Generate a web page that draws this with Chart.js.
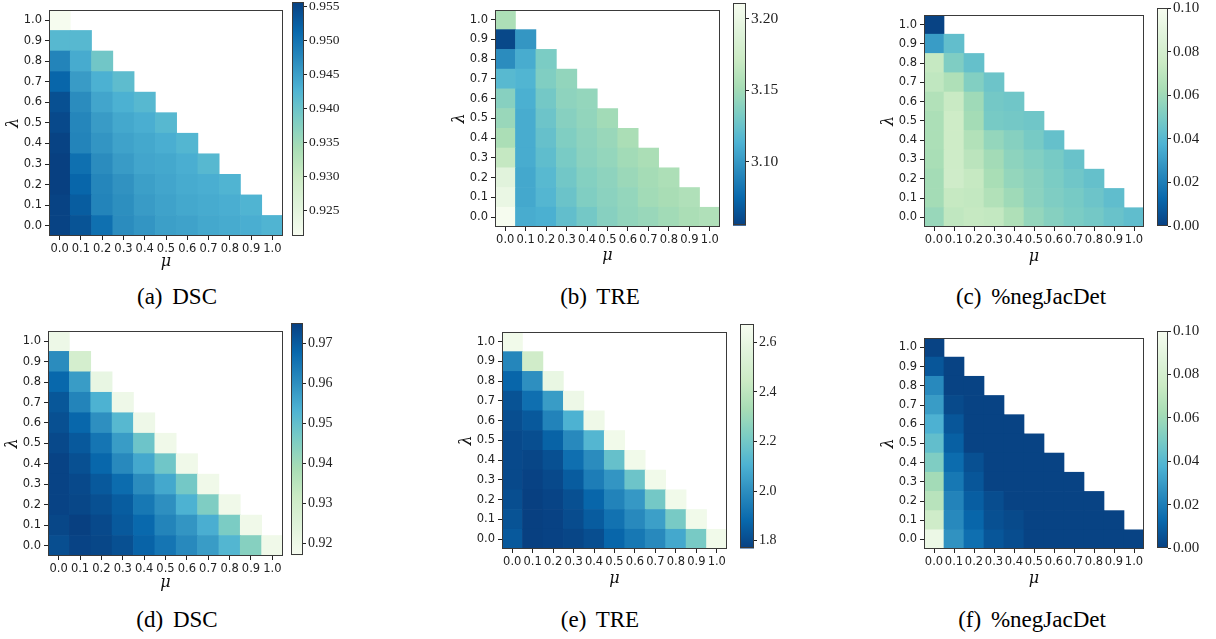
<!DOCTYPE html>
<html><head><meta charset="utf-8">
<script src="https://cdn.jsdelivr.net/npm/chart.js@4.4.1/dist/chart.umd.min.js"></script>
<style>
html,body{margin:0;padding:0;background:#fff;}
body{width:1216px;height:639px;position:relative;overflow:hidden;}
canvas{position:absolute;}
.cap{position:absolute;font-family:'Liberation Serif',serif;font-size:23px;word-spacing:4px;color:#000;white-space:nowrap;transform:translate(-50%,-50%);}
</style></head><body>
<script>
// ---------- data ----------
const muLabels = ['0.0','0.1','0.2','0.3','0.4','0.5','0.6','0.7','0.8','0.9','1.0'];
const lambdaValues = [0.0,0.1,0.2,0.3,0.4,0.5,0.6,0.7,0.8,0.9,1.0];

// rows: lambda = 0.0 (first) ... 1.0 (last); entries: mu = 0.0, 0.1, ...
const dscA = [
 [0.9554,0.9536,0.9505,0.9471,0.9461,0.9450,0.9447,0.9440,0.9437,0.9433,0.9426],
 [0.9554,0.9526,0.9481,0.9468,0.9454,0.9447,0.9440,0.9437,0.9433,0.9426],
 [0.9557,0.9516,0.9478,0.9464,0.9450,0.9443,0.9437,0.9433,0.9426],
 [0.9557,0.9505,0.9471,0.9454,0.9443,0.9440,0.9433,0.9419],
 [0.9554,0.9481,0.9461,0.9447,0.9440,0.9433,0.9423],
 [0.9547,0.9478,0.9454,0.9440,0.9433,0.9419],
 [0.9540,0.9471,0.9443,0.9430,0.9419],
 [0.9516,0.9454,0.9430,0.9413],
 [0.9481,0.9437,0.9395],
 [0.9419,0.9419],
 [0.9215]
];
const treB = [
 [3.210,3.110,3.112,3.122,3.130,3.138,3.143,3.146,3.150,3.154,3.157],
 [3.200,3.108,3.116,3.126,3.135,3.140,3.144,3.150,3.153,3.157],
 [3.192,3.108,3.118,3.129,3.137,3.141,3.147,3.151,3.155],
 [3.168,3.110,3.121,3.132,3.140,3.144,3.150,3.154],
 [3.154,3.110,3.124,3.135,3.141,3.146,3.154],
 [3.146,3.110,3.127,3.138,3.143,3.150],
 [3.138,3.112,3.130,3.141,3.144],
 [3.118,3.115,3.135,3.143],
 [3.094,3.110,3.133],
 [3.059,3.099],
 [3.155]
];
const negJacC = [
 [0.058,0.071,0.073,0.072,0.065,0.057,0.053,0.050,0.048,0.045,0.0425],
 [0.0615,0.073,0.072,0.066,0.060,0.0545,0.051,0.049,0.046,0.0425],
 [0.0615,0.077,0.073,0.063,0.057,0.054,0.050,0.047,0.044],
 [0.063,0.0765,0.069,0.061,0.055,0.052,0.049,0.045],
 [0.064,0.076,0.066,0.057,0.053,0.049,0.044],
 [0.064,0.076,0.0615,0.049,0.048,0.047],
 [0.066,0.074,0.060,0.048,0.047],
 [0.071,0.065,0.052,0.046],
 [0.073,0.051,0.044],
 [0.030,0.043],
 [0.001]
];
const dscD = [
 [0.9724,0.9744,0.9738,0.9721,0.9686,0.9651,0.9611,0.9576,0.9524,0.9443,0.9193],
 [0.9738,0.9750,0.9733,0.9704,0.9675,0.9622,0.9588,0.9541,0.9460,0.9193],
 [0.9744,0.9738,0.9721,0.9698,0.9646,0.9599,0.9535,0.9454,0.9193],
 [0.9744,0.9733,0.9704,0.9669,0.9605,0.9553,0.9472,0.9193],
 [0.9744,0.9721,0.9680,0.9611,0.9553,0.9477,0.9193],
 [0.9733,0.9704,0.9651,0.9576,0.9483,0.9193],
 [0.9721,0.9680,0.9599,0.9518,0.9199],
 [0.9709,0.9622,0.9535,0.9199],
 [0.9678,0.9576,0.9216],
 [0.9605,0.9286],
 [0.9200]
];
const treE = [
 [1.839,1.768,1.775,1.784,1.807,1.875,1.930,1.985,2.076,2.212,2.641],
 [1.821,1.768,1.775,1.802,1.848,1.912,1.985,2.048,2.212,2.641],
 [1.807,1.768,1.780,1.812,1.875,1.966,2.030,2.203,2.641],
 [1.793,1.775,1.793,1.848,1.948,2.021,2.185,2.641],
 [1.793,1.784,1.812,1.903,1.994,2.167,2.641],
 [1.793,1.807,1.866,1.985,2.121,2.641],
 [1.807,1.839,1.966,2.103,2.631],
 [1.821,1.903,2.039,2.622],
 [1.875,2.003,2.604],
 [1.976,2.467],
 [2.641]
];
const negJacF = [
 [0.094,0.027,0.015,0.007,0.004,0.001,0.001,0.001,0.001,0.001,0.001],
 [0.077,0.024,0.012,0.005,0.003,0.001,0.001,0.001,0.001,0.001],
 [0.068,0.022,0.0095,0.004,0.001,0.001,0.001,0.001,0.001],
 [0.061,0.018,0.007,0.001,0.001,0.001,0.001,0.001],
 [0.051,0.014,0.005,0.001,0.001,0.001,0.001],
 [0.043,0.010,0.001,0.001,0.001,0.001],
 [0.037,0.007,0.001,0.001,0.001],
 [0.030,0.003,0.001,0.001],
 [0.024,0.001,0.001],
 [0.007,0.001],
 [0.001]
];

// colour-bar ranges and tick labels
const rangeA = [0.9213, 0.9557];
const rangeB = [3.0553, 3.2107];
const rangeC = [0.0, 0.1];
const rangeD = [0.917, 0.975];
const rangeE = [1.768, 2.672];
const rangeF = [0.0, 0.1];
const cbTicksA = [0.925,0.930,0.935,0.940,0.945,0.950,0.955];
const cbTicksB = [3.10,3.15,3.20];
const cbTicksC = [0.00,0.02,0.04,0.06,0.08,0.10];
const cbTicksD = [0.92,0.93,0.94,0.95,0.96,0.97];
const cbTicksE = [1.8,2.0,2.2,2.4,2.6];
const cbTicksF = [0.00,0.02,0.04,0.06,0.08,0.10];

// ---------- colormap (GnBu) ----------
const GNBU = ['#f7fcf0','#e0f3db','#ccebc5','#a8ddb5','#7bccc4','#4eb3d3','#2b8cbe','#0868ac','#084081'];
const GN = GNBU.map(h => [1,3,5].map(i => parseInt(h.substr(i,2),16)));
function cmapT(t){
  t = Math.max(0, Math.min(1, t));
  const s = t*8, i = Math.min(7, Math.floor(s)), f = s - i;
  const a = GN[i], b = GN[i+1];
  return 'rgb(' + a.map((c,k) => Math.round(c + (b[k]-c)*f)).join(',') + ')';
}
function cmap(v, range, rev){
  let t = (v - range[0]) / (range[1] - range[0]);
  if (rev) t = 1 - t;
  return cmapT(t);
}

const framePlugin = {
  id: 'frame',
  afterDraw(chart){
    const {ctx, chartArea: a} = chart;
    ctx.save();
    ctx.strokeStyle = '#3a3a3a';
    ctx.lineWidth = 1;
    ctx.strokeRect(Math.round(a.left) + 0.5, Math.round(a.top) + 0.5,
                   Math.round(a.right - a.left) - 1, Math.round(a.bottom - a.top) - 1);
    ctx.restore();
  }
};

const panels = [
  {data: dscA, range: rangeA, rev: false, ticks: cbTicksA, dec: 3, box: [49,2,283,236], cb: [292,2,304,236], muGap: 28, cbFont: 13.5, caption: '(a) DSC', cap: [177,297]},
  {data: treB, range: rangeB, rev: true,  ticks: cbTicksB, dec: 2, box: [495,2,720,227], cb: [733,2,746,227], muGap: 31.5, cbFont: 15.5, caption: '(b) TRE', cap: [600,297]},
  {data: negJacC, range: rangeC, rev: true, ticks: cbTicksC, dec: 2, box: [924,7,1144,227], cb: [1157,7,1168,227], muGap: 32, cbFont: 15, caption: '(c) %negJacDet', cap: [1031,297]},
  {data: dscD, range: rangeD, rev: false, ticks: cbTicksD, dec: 2, box: [48,323,283,556], cb: [291,323,303,556], muGap: 29, cbFont: 14, caption: '(d) DSC', cap: [177,620]},
  {data: treE, range: rangeE, rev: true, ticks: cbTicksE, dec: 1, box: [502,324,727,549], cb: [740,324,754,549], muGap: 32.5, cbFont: 14, caption: '(e) TRE', cap: [600,620]},
  {data: negJacF, range: rangeF, rev: true, ticks: cbTicksF, dec: 2, box: [924,330,1144,549], cb: [1157,330,1168,549], muGap: 32.5, cbFont: 15, caption: '(f) %negJacDet', cap: [1032,620]}
];

function makeCanvas(left, top, w, h){
  const cv = document.createElement('canvas');
  cv.width = w; cv.height = h;
  cv.style.left = left + 'px'; cv.style.top = top + 'px';
  cv.style.width = w + 'px'; cv.style.height = h + 'px';
  document.body.appendChild(cv);
  return cv;
}

const tickFont = {family: "'DejaVu Sans', sans-serif", size: 11.5};
const axisGrid = {display: true, drawOnChartArea: false, drawTicks: true, tickLength: 4, color: '#222', offset: false};

function heatmap(p){
  const YW = 48, XH = 42, PT = 2, PR = 2;
  const [L,T,R,B] = p.box;
  const cv = makeCanvas(L - YW, T - PT, (R-L) + YW + PR, (B-T) + PT + XH);
  const datasets = p.data.map((row, k) => ({
    data: muLabels.map((_, j) => j < row.length ? [lambdaValues[k] - 0.05, lambdaValues[k] + 0.05] : null),
    backgroundColor: muLabels.map((_, j) => j < row.length ? cmap(row[j], p.range, p.rev) : 'rgba(0,0,0,0)'),
    borderWidth: 0, barPercentage: 1, categoryPercentage: 1, grouped: false
  }));
  new Chart(cv, {
    type: 'bar',
    data: {labels: muLabels, datasets},
    plugins: [framePlugin],
    options: {
      responsive: false, animation: false, devicePixelRatio: 1, events: [],
      layout: {padding: {top: PT, right: PR, left: 0, bottom: 0}},
      plugins: {legend: {display: false}, tooltip: {enabled: false}},
      scales: {
        x: {
          type: 'category', offset: true,
          grid: axisGrid, border: {display: false},
          ticks: {autoSkip: false, maxRotation: 0, minRotation: 0, padding: 2, color: '#222', font: tickFont},
          title: {display: true, text: 'μ', color: '#111',
                  font: {family: "'DejaVu Serif', serif", style: 'italic', size: 16},
                  padding: {top: 0, bottom: Math.max(0, 34.8 - p.muGap)}},
          afterFit: s => { s.height = XH; }
        },
        y: {
          type: 'linear', min: -0.05, max: 1.05,
          afterBuildTicks: s => { s.ticks = lambdaValues.map(v => ({value: v})); },
          grid: axisGrid, border: {display: false},
          ticks: {padding: 3, color: '#222', font: tickFont, callback: v => Number(v).toFixed(1)},
          title: {display: true, text: 'λ', color: '#111',
                  font: {family: "'DejaVu Serif', serif", style: 'italic', size: 16},
                  padding: {top: 3, bottom: 0}},
          afterFit: s => { s.width = YW; }
        }
      }
    }
  });
}

function colorbar(p){
  const PAD = 10, AW = 52;
  const [L,T,R,B] = p.cb;
  const cv = makeCanvas(L, T - PAD, (R-L) + AW, (B-T) + 2*PAD);
  new Chart(cv, {
    type: 'bar',
    data: {labels: [''], datasets: [{
      data: [[p.range[0], p.range[1]]],
      barPercentage: 1, categoryPercentage: 1, borderWidth: 0,
      backgroundColor: c => {
        const ch = c.chart, a = ch.chartArea;
        if (!a) return 'rgba(0,0,0,0)';
        const g = ch.ctx.createLinearGradient(0, a.bottom, 0, a.top);
        for (let i = 0; i <= 32; i++) {
          const t = i/32;
          g.addColorStop(t, cmapT(p.rev ? 1 - t : t));
        }
        return g;
      }
    }]},
    plugins: [framePlugin],
    options: {
      responsive: false, animation: false, devicePixelRatio: 1, events: [],
      layout: {padding: {top: PAD, bottom: PAD, left: 0, right: 0}},
      plugins: {legend: {display: false}, tooltip: {enabled: false}},
      scales: {
        x: {display: false},
        y: {
          position: 'right', min: p.range[0], max: p.range[1],
          afterBuildTicks: s => { s.ticks = p.ticks.map(v => ({value: v})); },
          grid: {display: true, drawOnChartArea: false, drawTicks: true, tickLength: 3, color: '#222'},
          border: {display: false},
          ticks: {padding: 2, color: '#222', font: {family: "'Liberation Serif', serif", size: p.cbFont},
                  callback: v => Number(v).toFixed(p.dec)},
          afterFit: s => { s.width = AW; }
        }
      }
    }
  });
}

panels.forEach(p => {
  heatmap(p);
  colorbar(p);
  const d = document.createElement('div');
  d.className = 'cap';
  d.textContent = p.caption;
  d.style.left = p.cap[0] + 'px';
  d.style.top = p.cap[1] + 'px';
  document.body.appendChild(d);
});
</script>
</body></html>
